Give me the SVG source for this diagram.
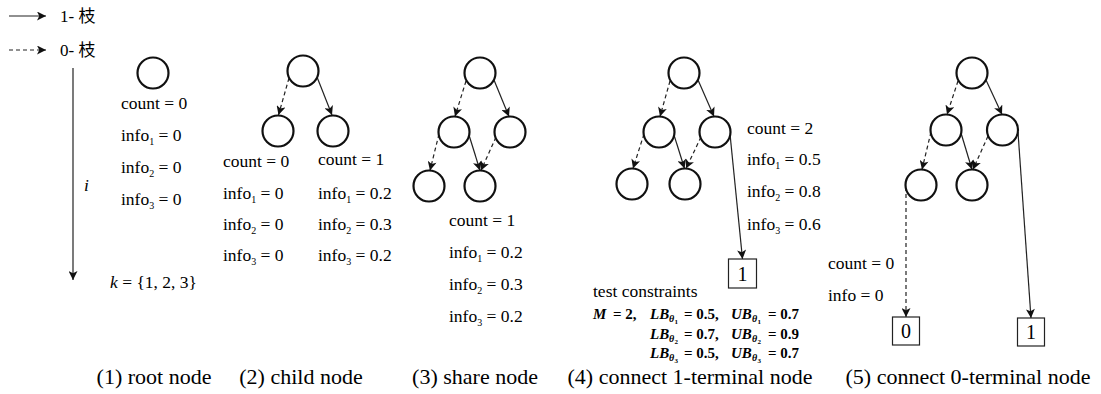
<svg xmlns="http://www.w3.org/2000/svg" width="1101" height="394" viewBox="0 0 1101 394" font-family="'Liberation Serif', 'Times New Roman', serif">
  <defs>
    <marker id="ah" viewBox="0 0 10 10" refX="10" refY="5" markerWidth="10" markerHeight="9" markerUnits="userSpaceOnUse" orient="auto">
      <path d="M0,0 L10,5 L0,10 L2.5,5 z" fill="#111"/>
    </marker>
    <style>
      .nd { fill: #fff; stroke: #111; stroke-width: 2.2; }
      .term { fill: #fff; stroke: #222; stroke-width: 1.2; }
      .e1 { fill: none; stroke: #222; stroke-width: 1.2; marker-end: url(#ah); }
      .e0 { fill: none; stroke: #222; stroke-width: 1.2; stroke-dasharray: 4 3; marker-end: url(#ah); }
      .ax { fill: none; stroke: #222; stroke-width: 1.2; marker-end: url(#ah); }
      text { font-family: "Liberation Serif", "Times New Roman", serif; fill: #000; }
      .lbl { font-size: 17.5px; }
      .sub { font-size: 10px; }
      .cap { font-size: 22px; text-anchor: middle; }
      .tv { font-size: 20px; text-anchor: middle; }
      .m { font-size: 15px; font-weight: bold; }
      .mi { font-size: 15px; font-weight: bold; font-style: italic; }
      .ms { font-size: 10px; font-weight: bold; font-style: italic; }
      .mss { font-size: 7px; font-weight: bold; }
      .leg { font-size: 17px; }
      .cjk { font-family: "Noto Sans CJK SC", "Noto Sans CJK JP", sans-serif; }
    </style>
  </defs>

  <!-- legend -->
  <g id="legend">
    <line class="ax" x1="9" y1="16" x2="46" y2="16"/>
    <text class="leg" x="60" y="22">1- <tspan class="cjk">枝</tspan></text>
    <line class="e0" x1="9" y1="50" x2="46" y2="50"/>
    <text class="leg" x="60" y="56">0- <tspan class="cjk">枝</tspan></text>
  </g>

  <!-- variable order axis -->
  <g id="axis">
    <line class="ax" x1="73" y1="68" x2="73" y2="280"/>
    <text class="lbl" x="84" y="191" font-style="italic">i</text>
    <text class="lbl" x="110" y="288"><tspan font-style="italic">k</tspan> = {1, 2, 3}</text>
  </g>

  <!-- connectors -->
  <g id="edges">
    <!-- (2) -->
    <path class="e0" d="M289,78 L278.5,115"/>
    <path class="e1" d="M317,77 L332,115"/>
    <!-- (3) -->
    <path class="e0" d="M466,81 L455,116.5"/>
    <path class="e1" d="M494,80 L509,116.5"/>
    <path class="e0" d="M439,134 L430,170.5"/>
    <path class="e1" d="M469,135 L480,170.5"/>
    <path class="e0" d="M496,137 L481,170.5"/>
    <!-- (4) -->
    <path class="e0" d="M670,81 L660,116.5"/>
    <path class="e1" d="M698,80 L714,116.5"/>
    <path class="e0" d="M644,134 L633,168.5"/>
    <path class="e1" d="M674,135 L684.5,168.5"/>
    <path class="e0" d="M701,137 L686,168.5"/>
    <path class="e1" d="M730,134 L742.5,259"/>
    <!-- (5) -->
    <path class="e0" d="M958,81 L947,114.5"/>
    <path class="e1" d="M986,80 L1002,114.5"/>
    <path class="e0" d="M931,132 L922,169.5"/>
    <path class="e1" d="M961,133 L972,169.5"/>
    <path class="e0" d="M988,136 L973,169.5"/>
    <path class="e0" d="M906,187 L906,317"/>
    <path class="e1" d="M1018,132 L1031,318"/>
  </g>

  <!-- (1) root node -->
  <g id="p1-root">
    <circle class="nd" cx="153" cy="73" r="15.5"/>
    <text class="lbl" x="121" y="109">count = 0</text>
    <text class="lbl" x="121" y="141">info<tspan class="sub" dy="4">1</tspan><tspan dy="-4"> = 0</tspan></text>
    <text class="lbl" x="121" y="173">info<tspan class="sub" dy="4">2</tspan><tspan dy="-4"> = 0</tspan></text>
    <text class="lbl" x="121" y="205">info<tspan class="sub" dy="4">3</tspan><tspan dy="-4"> = 0</tspan></text>
  </g>

  <!-- (2) child node -->
  <g id="p2-root"><circle class="nd" cx="303" cy="71" r="15.5"/></g>
  <g id="p2-low">
    <circle class="nd" cx="278" cy="131" r="15.5"/>
    <text class="lbl" x="223" y="167">count = 0</text>
    <text class="lbl" x="223" y="199">info<tspan class="sub" dy="4">1</tspan><tspan dy="-4"> = 0</tspan></text>
    <text class="lbl" x="223" y="230">info<tspan class="sub" dy="4">2</tspan><tspan dy="-4"> = 0</tspan></text>
    <text class="lbl" x="223" y="261">info<tspan class="sub" dy="4">3</tspan><tspan dy="-4"> = 0</tspan></text>
  </g>
  <g id="p2-high">
    <circle class="nd" cx="333" cy="131" r="15.5"/>
    <text class="lbl" x="318" y="165">count = 1</text>
    <text class="lbl" x="318" y="199">info<tspan class="sub" dy="4">1</tspan><tspan dy="-4"> = 0.2</tspan></text>
    <text class="lbl" x="318" y="230">info<tspan class="sub" dy="4">2</tspan><tspan dy="-4"> = 0.3</tspan></text>
    <text class="lbl" x="318" y="261">info<tspan class="sub" dy="4">3</tspan><tspan dy="-4"> = 0.2</tspan></text>
  </g>

  <!-- (3) share node -->
  <g id="p3-root"><circle class="nd" cx="480" cy="73" r="15.5"/></g>
  <g id="p3-a"><circle class="nd" cx="454" cy="132" r="15.5"/></g>
  <g id="p3-b"><circle class="nd" cx="510" cy="132" r="15.5"/></g>
  <g id="p3-c"><circle class="nd" cx="429" cy="186" r="15.5"/></g>
  <g id="p3-shared">
    <circle class="nd" cx="480" cy="186" r="15.5"/>
    <text class="lbl" x="449" y="226">count = 1</text>
    <text class="lbl" x="449" y="258">info<tspan class="sub" dy="4">1</tspan><tspan dy="-4"> = 0.2</tspan></text>
    <text class="lbl" x="449" y="290">info<tspan class="sub" dy="4">2</tspan><tspan dy="-4"> = 0.3</tspan></text>
    <text class="lbl" x="449" y="322">info<tspan class="sub" dy="4">3</tspan><tspan dy="-4"> = 0.2</tspan></text>
  </g>

  <!-- (4) connect 1-terminal node -->
  <g id="p4-root"><circle class="nd" cx="684" cy="73" r="15.5"/></g>
  <g id="p4-a"><circle class="nd" cx="659" cy="132" r="15.5"/></g>
  <g id="p4-b">
    <circle class="nd" cx="715" cy="132" r="15.5"/>
    <text class="lbl" x="747" y="134">count = 2</text>
    <text class="lbl" x="747" y="165">info<tspan class="sub" dy="4">1</tspan><tspan dy="-4"> = 0.5</tspan></text>
    <text class="lbl" x="747" y="197">info<tspan class="sub" dy="4">2</tspan><tspan dy="-4"> = 0.8</tspan></text>
    <text class="lbl" x="747" y="230">info<tspan class="sub" dy="4">3</tspan><tspan dy="-4"> = 0.6</tspan></text>
  </g>
  <g id="p4-c"><circle class="nd" cx="632" cy="184" r="15.5"/></g>
  <g id="p4-d"><circle class="nd" cx="685" cy="184" r="15.5"/></g>
  <g id="p4-t1">
    <rect class="term" x="728.5" y="259" width="28" height="29"/>
    <text class="tv" x="742.5" y="281">1</text>
  </g>
  <g id="p4-constraints">
    <text class="lbl" x="593" y="297">test constraints</text>
    <!-- row 1 -->
    <text class="mi" x="593" y="319">M</text>
    <text class="m" x="613" y="319">= 2,</text>
    <text class="mi" x="650" y="319">LB</text>
    <text class="ms" x="669" y="322">θ</text>
    <text class="mss" x="674.5" y="324">1</text>
    <text class="m" x="684" y="319">= 0.5,</text>
    <text class="mi" x="731" y="319">UB</text>
    <text class="ms" x="752" y="322">θ</text>
    <text class="mss" x="757.5" y="324">1</text>
    <text class="m" x="768" y="319">= 0.7</text>
    <!-- row 2 -->
    <text class="mi" x="650" y="339">LB</text>
    <text class="ms" x="669" y="342">θ</text>
    <text class="mss" x="674.5" y="344">2</text>
    <text class="m" x="684" y="339">= 0.7,</text>
    <text class="mi" x="731" y="339">UB</text>
    <text class="ms" x="752" y="342">θ</text>
    <text class="mss" x="757.5" y="344">2</text>
    <text class="m" x="768" y="339">= 0.9</text>
    <!-- row 3 -->
    <text class="mi" x="650" y="358">LB</text>
    <text class="ms" x="669" y="361">θ</text>
    <text class="mss" x="674.5" y="363">3</text>
    <text class="m" x="684" y="358">= 0.5,</text>
    <text class="mi" x="731" y="358">UB</text>
    <text class="ms" x="752" y="361">θ</text>
    <text class="mss" x="757.5" y="363">3</text>
    <text class="m" x="768" y="358">= 0.7</text>
  </g>

  <!-- (5) connect 0-terminal node -->
  <g id="p5-root"><circle class="nd" cx="972" cy="73" r="15.5"/></g>
  <g id="p5-a"><circle class="nd" cx="946" cy="130" r="15.5"/></g>
  <g id="p5-b"><circle class="nd" cx="1002.5" cy="130" r="15.5"/></g>
  <g id="p5-c">
    <circle class="nd" cx="921" cy="185" r="15.5"/>
    <text class="lbl" x="828" y="269">count = 0</text>
    <text class="lbl" x="828" y="301">info = 0</text>
  </g>
  <g id="p5-d"><circle class="nd" cx="972" cy="185" r="15.5"/></g>
  <g id="p5-t0">
    <rect class="term" x="892.5" y="317" width="27" height="28"/>
    <text class="tv" x="906" y="338">0</text>
  </g>
  <g id="p5-t1">
    <rect class="term" x="1017.5" y="318" width="27" height="28"/>
    <text class="tv" x="1031" y="339">1</text>
  </g>

  <!-- captions -->
  <g id="captions">
    <text class="cap" x="154" y="384">(1) root node</text>
    <text class="cap" x="301" y="384">(2) child node</text>
    <text class="cap" x="475" y="384">(3) share node</text>
    <text class="cap" x="690" y="384">(4) connect 1-terminal node</text>
    <text class="cap" x="968" y="384">(5) connect 0-terminal node</text>
  </g>
</svg>
